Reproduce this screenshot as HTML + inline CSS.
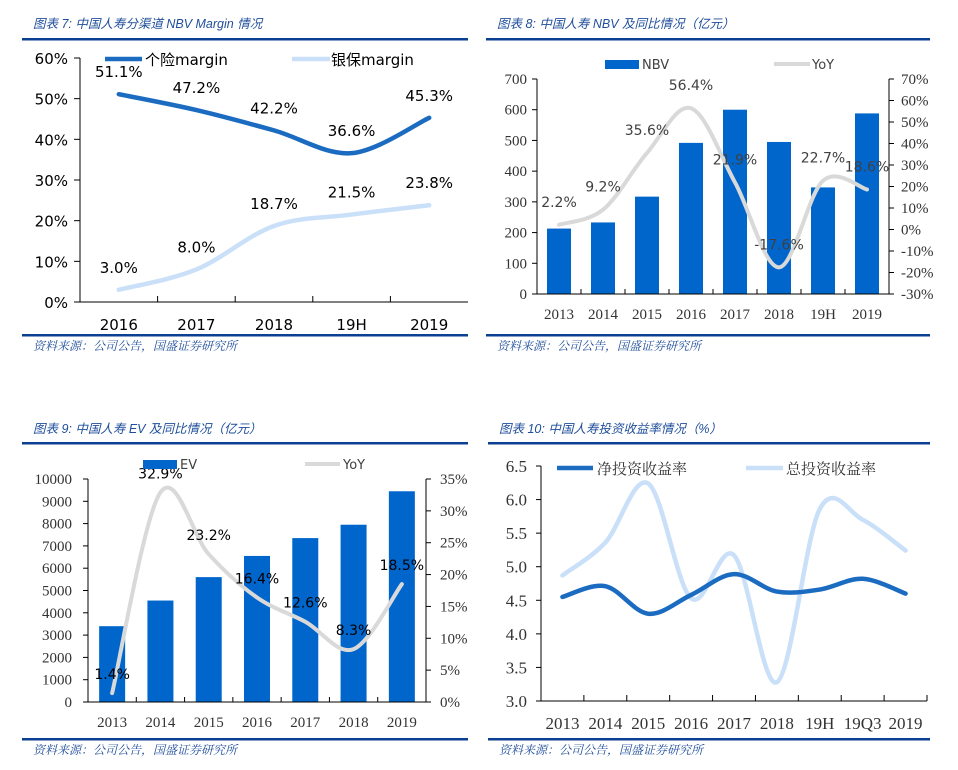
<!DOCTYPE html>
<html><head><meta charset="utf-8">
<style>
html,body{margin:0;padding:0;background:#fff;}
svg{display:block;}
.ttl{font-family:"Liberation Sans","Noto Sans CJK SC",sans-serif;font-style:italic;font-size:12.5px;fill:#1F4E9A;}
.src{font-family:"Liberation Serif","Noto Serif CJK SC",serif;font-style:italic;font-size:12px;fill:#1F4E9A;}
.sans{font-family:"DejaVu Sans","Noto Sans CJK SC",sans-serif;}
.serif{font-family:"Liberation Serif","Noto Serif CJK SC",serif;}
</style></head>
<body>
<svg id="s" width="958" height="770" viewBox="0 0 958 770" xmlns="http://www.w3.org/2000/svg">
<text class="ttl" x="33" y="28">图表 7:  中国人寿分渠道 NBV Margin 情况</text>
<rect x="22" y="38" width="446" height="2.5" fill="#0B3F91"/>
<rect x="22" y="334" width="446" height="2.5" fill="#0B3F91"/>
<text class="src" x="33" y="350">资料来源：公司公告，国盛证券研究所</text>

<text class="ttl" x="497" y="28">图表 8:  中国人寿 NBV 及同比情况（亿元）</text>
<rect x="486" y="38" width="444" height="2.5" fill="#0B3F91"/>
<rect x="486" y="334" width="444" height="2.5" fill="#0B3F91"/>
<text class="src" x="497" y="350">资料来源：公司公告，国盛证券研究所</text>

<text class="ttl" x="33" y="433">图表 9:  中国人寿 EV 及同比情况（亿元）</text>
<rect x="22" y="442" width="446" height="2.5" fill="#0B3F91"/>
<rect x="22" y="738" width="446" height="2.5" fill="#0B3F91"/>
<text class="src" x="33" y="754">资料来源：公司公告，国盛证券研究所</text>

<text class="ttl" x="499" y="433">图表 10:  中国人寿投资收益率情况（%）</text>
<rect x="488" y="442" width="442" height="2.5" fill="#0B3F91"/>
<rect x="488" y="738" width="442" height="2.5" fill="#0B3F91"/>
<text class="src" x="499" y="754">资料来源：公司公告，国盛证券研究所</text>
</svg>
<script>
// Chart 7 data
const c7Cats = ["2016","2017","2018","19H","2019"];
const c7Indiv = [51.1,47.2,42.2,36.6,45.3];
const c7Bank = [3.0,8.0,18.7,21.5,23.8];
const c7Ticks = [0,10,20,30,40,50,60];
// Chart 8 data
const c8Cats = ["2013","2014","2015","2016","2017","2018","19H","2019"];
const c8NBV = [213,233,317,492,600,495,347,588];
const c8YoY = [2.2,9.2,35.6,56.4,21.9,-17.6,22.7,18.6];
const c8LTicks = [0,100,200,300,400,500,600,700];
const c8RTicks = [-30,-20,-10,0,10,20,30,40,50,60,70];
// Chart 9 data
const c9Cats = ["2013","2014","2015","2016","2017","2018","2019"];
const c9EV = [3400,4550,5600,6550,7350,7950,9450];
const c9YoY = [1.4,32.9,23.2,16.4,12.6,8.3,18.5];
const c9LTicks = [0,1000,2000,3000,4000,5000,6000,7000,8000,9000,10000];
const c9RTicks = [0,5,10,15,20,25,30,35];
// Chart 10 data
const c10Cats = ["2013","2014","2015","2016","2017","2018","19H","19Q3","2019"];
const c10Net = [4.55,4.71,4.30,4.58,4.89,4.63,4.66,4.82,4.60];
const c10Gross = [4.87,5.36,6.24,4.53,5.17,3.28,5.86,5.70,5.24];
const c10Ticks = [3.0,3.5,4.0,4.5,5.0,5.5,6.0,6.5];

const svg = document.getElementById('s');
const NS = "http://www.w3.org/2000/svg";
function mk(tag, attrs, parent){
  const e = document.createElementNS(NS, tag);
  for (const k in attrs) e.setAttribute(k, attrs[k]);
  (parent||svg).appendChild(e);
  return e;
}
function txt(x,y,s,cls,size,fill,anchor){
  const t = mk('text',{x:x,y:y,'class':cls,'font-size':size,fill:fill,'text-anchor':anchor||'middle'});
  t.textContent = s;
  return t;
}
function smooth(pts){
  let d = "M"+pts[0][0]+","+pts[0][1];
  for (let i=0;i<pts.length-1;i++){
    const p0=pts[Math.max(0,i-1)], p1=pts[i], p2=pts[i+1], p3=pts[Math.min(pts.length-1,i+2)];
    const c1x=p1[0]+(p2[0]-p0[0])/6, c1y=p1[1]+(p2[1]-p0[1])/6;
    const c2x=p2[0]-(p3[0]-p1[0])/6, c2y=p2[1]-(p3[1]-p1[1])/6;
    d += " C"+c1x+","+c1y+" "+c2x+","+c2y+" "+p2[0]+","+p2[1];
  }
  return d;
}
function lin(d0,d1,r0,r1){ return v => r0 + (v-d0)/(d1-d0)*(r1-r0); }

// ===== Chart 7 =====
(function(){
  const x0=80,x1=468,yT=58,yB=302;
  const y = lin(0,60,yB,yT);
  const bw=(x1-x0)/c7Cats.length;
  const xc = i => x0+bw*(i+0.5);
  mk('line',{x1:x0,y1:yT,x2:x0,y2:yB,stroke:'#000','stroke-width':1});
  mk('line',{x1:x0,y1:yB,x2:x1,y2:yB,stroke:'#000','stroke-width':1});
  c7Ticks.forEach(v=>{
    mk('line',{x1:x0-6,y1:y(v),x2:x0,y2:y(v),stroke:'#000'});
    const t=txt(x0-12,y(v)+6,v+"%","sans",15,'#000','end');
    
    
  });
  for(let i=1;i<c7Cats.length;i++) mk('line',{x1:x0+bw*i,y1:yB-6,x2:x0+bw*i,y2:yB,stroke:'#000'});
  c7Cats.forEach((c,i)=>{
    const t=txt(xc(i),yB+28,c,"sans",15,'#000');
    
    
  });
  const p1=mk('path',{d:smooth(c7Indiv.map((v,i)=>[xc(i),y(v)])),fill:'none',stroke:'#1B6CC1','stroke-width':4.5,'stroke-linecap':'round'});
  
  
  const p2=mk('path',{d:smooth(c7Bank.map((v,i)=>[xc(i),y(v)])),fill:'none',stroke:'#C9E0F8','stroke-width':4.5,'stroke-linecap':'round'});
  
  
  c7Indiv.forEach((v,i)=>{const t=txt(xc(i),y(v)-17,v.toFixed(1)+"%","sans",15,'#000');
    });
  c7Bank.forEach((v,i)=>{const t=txt(xc(i),y(v)-17,v.toFixed(1)+"%","sans",15,'#000');
    });
  mk('line',{x1:105,y1:59,x2:142,y2:59,stroke:'#1B6CC1','stroke-width':4.5});
  const l1=txt(145,65,"个险margin","sans",15,'#000','start');
  
  mk('line',{x1:292,y1:59,x2:330,y2:59,stroke:'#C9E0F8','stroke-width':4.5});
  const l2=txt(331,65,"银保margin","sans",15,'#000','start');
  
})();

// ===== Chart 8 =====
(function(){
  const x0=537,x1=889,yT=79,yB=294;
  const y = lin(0,700,yB,yT), yr = lin(-30,70,yB,yT);
  const bw=(x1-x0)/c8Cats.length;
  const xc=i=>x0+bw*(i+0.5);
  c8NBV.forEach((v,i)=>{
    const r=mk('rect',{x:xc(i)-12,y:y(v),width:24,height:yB-y(v),fill:'#0066CC'});
    
    
  });
  mk('line',{x1:x0,y1:yT,x2:x0,y2:yB,stroke:'#000'});
  mk('line',{x1:x1,y1:yT,x2:x1,y2:yB,stroke:'#000'});
  mk('line',{x1:x0,y1:yB,x2:x1,y2:yB,stroke:'#000'});
  c8LTicks.forEach(v=>{mk('line',{x1:x0-5,y1:y(v),x2:x0,y2:y(v),stroke:'#000'});
    const t=txt(x0-10,y(v)+5,String(v),"serif",15,'#333','end');
    });
  c8RTicks.forEach(v=>{mk('line',{x1:x1,y1:yr(v),x2:x1+5,y2:yr(v),stroke:'#000'});
    const t=txt(x1+12,yr(v)+5,v+"%","serif",15,'#333','start');
    });
  for(let i=1;i<c8Cats.length;i++) mk('line',{x1:x0+bw*i,y1:yB-5,x2:x0+bw*i,y2:yB,stroke:'#000'});
  c8Cats.forEach((c,i)=>{const t=txt(xc(i),yB+25,c,"serif",15,'#333');
    });
  const p=mk('path',{d:smooth(c8YoY.map((v,i)=>[xc(i),yr(v)])),fill:'none',stroke:'#D9D9D9','stroke-width':4,'stroke-linecap':'round'});
  
  c8YoY.forEach((v,i)=>{const t=txt(xc(i),yr(v)-18,v.toFixed(1)+"%","sans",14,'#404040');
    });
  mk('rect',{x:605,y:60,width:34,height:9,fill:'#0066CC'});
  const l1=txt(642,69,"NBV","sans",13,'#404040','start');
  
  mk('line',{x1:774,y1:64,x2:810,y2:64,stroke:'#D9D9D9','stroke-width':4});
  const l2=txt(812,69,"YoY","sans",13,'#404040','start');
  
})();

// ===== Chart 9 =====
(function(){
  const x0=88,x1=426,yT=479,yB=702;
  const y=lin(0,10000,yB,yT), yr=lin(0,35,yB,yT);
  const bw=(x1-x0)/c9Cats.length;
  const xc=i=>x0+bw*(i+0.5);
  c9EV.forEach((v,i)=>{
    const r=mk('rect',{x:xc(i)-13,y:y(v),width:26,height:yB-y(v),fill:'#0066CC'});
    
    
  });
  mk('line',{x1:x0,y1:yT,x2:x0,y2:yB,stroke:'#000'});
  mk('line',{x1:x1,y1:yT,x2:x1,y2:yB,stroke:'#000'});
  mk('line',{x1:x0,y1:yB,x2:x1,y2:yB,stroke:'#000'});
  c9LTicks.forEach(v=>{mk('line',{x1:x0-5,y1:y(v),x2:x0,y2:y(v),stroke:'#000'});
    const t=txt(x0-16,y(v)+5,String(v),"serif",15,'#333','end');
    });
  c9RTicks.forEach(v=>{mk('line',{x1:x1,y1:yr(v),x2:x1+5,y2:yr(v),stroke:'#000'});
    const t=txt(x1+14,yr(v)+5,v+"%","serif",15,'#333','start');
    });
  for(let i=1;i<c9Cats.length;i++) mk('line',{x1:x0+bw*i,y1:yB-5,x2:x0+bw*i,y2:yB,stroke:'#000'});
  c9Cats.forEach((c,i)=>{const t=txt(xc(i),yB+25,c,"serif",15,'#333');
    });
  const p=mk('path',{d:smooth(c9YoY.map((v,i)=>[xc(i),yr(v)])),fill:'none',stroke:'#D9D9D9','stroke-width':4,'stroke-linecap':'round'});
  
  c9YoY.forEach((v,i)=>{const t=txt(xc(i),yr(v)-14,v.toFixed(1)+"%","sans",14,'#000');
    });
  mk('rect',{x:143,y:460,width:34,height:9,fill:'#0066CC'});
  const l1=txt(180,469,"EV","sans",13,'#404040','start');
  
  mk('line',{x1:305,y1:464,x2:340,y2:464,stroke:'#D9D9D9','stroke-width':4});
  const l2=txt(343,469,"YoY","sans",13,'#404040','start');
  
})();

// ===== Chart 10 =====
(function(){
  const x0=541,x1=927,yT=466,yB=701;
  const y=lin(3.0,6.5,yB,yT);
  const bw=(x1-x0)/c10Cats.length;
  const xc=i=>x0+bw*(i+0.5);
  mk('line',{x1:x0,y1:yT,x2:x0,y2:yB,stroke:'#000'});
  mk('line',{x1:x0,y1:yB,x2:x1,y2:yB,stroke:'#000'});
  c10Ticks.forEach(v=>{mk('line',{x1:x0-5,y1:y(v),x2:x0,y2:y(v),stroke:'#000'});
    const t=txt(x0-14,y(v)+6,v.toFixed(1),"serif",17,'#333','end');
    });
  for(let i=1;i<=c10Cats.length;i++) mk('line',{x1:x0+bw*i,y1:yB-6,x2:x0+bw*i,y2:yB,stroke:'#000'});
  c10Cats.forEach((c,i)=>{const t=txt(xc(i),yB+28,c,"serif",17,'#333');
    });
  const pg=mk('path',{d:smooth(c10Gross.map((v,i)=>[xc(i),y(v)])),fill:'none',stroke:'#C9E0F8','stroke-width':4.5,'stroke-linecap':'round'});
  
  const pn=mk('path',{d:smooth(c10Net.map((v,i)=>[xc(i),y(v)])),fill:'none',stroke:'#1B6CC1','stroke-width':4.5,'stroke-linecap':'round'});
  
  mk('line',{x1:557,y1:468,x2:593,y2:468,stroke:'#1B6CC1','stroke-width':4.5});
  const l1=txt(597,474,"净投资收益率","serif",15,'#333','start');
  
  mk('line',{x1:746,y1:468,x2:783,y2:468,stroke:'#C9E0F8','stroke-width':4.5});
  const l2=txt(786,474,"总投资收益率","serif",15,'#333','start');
  
})();
</script>
</body></html>
